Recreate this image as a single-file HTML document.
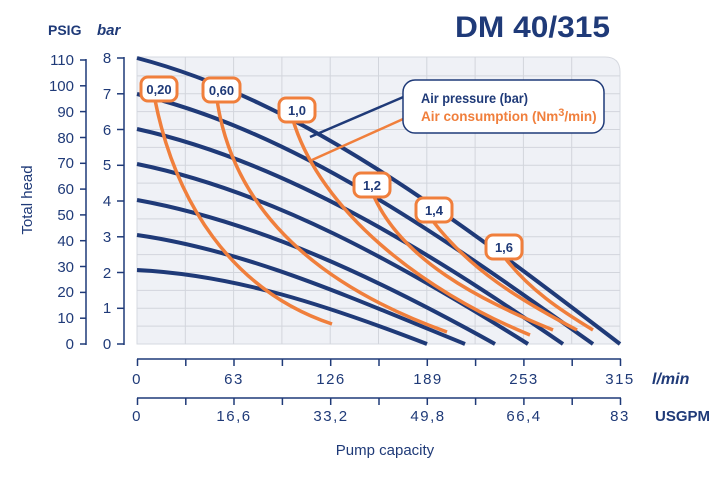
<!DOCTYPE html>
<html><head><meta charset="utf-8"><style>
html,body{margin:0;padding:0;background:#fff}
svg{display:block}
text{font-family:"Liberation Sans",sans-serif}
</style></head><body>
<svg width="716" height="502" viewBox="0 0 716 502" xmlns="http://www.w3.org/2000/svg">
<defs><clipPath id="pc"><path d="M137,57 H605 Q620,57 620,72 V344 H137 Z"/></clipPath></defs>
<path d="M137,57 H605 Q620,57 620,72 V344 H137 Z" fill="#eff1f6" stroke="#d6d9e0" stroke-width="1"/>
<g clip-path="url(#pc)" stroke="#d2d5dc" stroke-width="1">
<line x1="185.3" y1="57" x2="185.3" y2="344"/><line x1="233.6" y1="57" x2="233.6" y2="344"/>
<line x1="281.9" y1="57" x2="281.9" y2="344"/><line x1="330.2" y1="57" x2="330.2" y2="344"/>
<line x1="378.5" y1="57" x2="378.5" y2="344"/><line x1="426.8" y1="57" x2="426.8" y2="344"/>
<line x1="475.1" y1="57" x2="475.1" y2="344"/><line x1="523.4" y1="57" x2="523.4" y2="344"/>
<line x1="571.7" y1="57" x2="571.7" y2="344"/>
<line x1="137" y1="75.9" x2="620" y2="75.9"/><line x1="137" y1="93.8" x2="620" y2="93.8"/>
<line x1="137" y1="111.6" x2="620" y2="111.6"/><line x1="137" y1="129.5" x2="620" y2="129.5"/>
<line x1="137" y1="147.4" x2="620" y2="147.4"/><line x1="137" y1="165.3" x2="620" y2="165.3"/>
<line x1="137" y1="183.1" x2="620" y2="183.1"/><line x1="137" y1="201" x2="620" y2="201"/>
<line x1="137" y1="218.9" x2="620" y2="218.9"/><line x1="137" y1="236.8" x2="620" y2="236.8"/>
<line x1="137" y1="254.6" x2="620" y2="254.6"/><line x1="137" y1="272.5" x2="620" y2="272.5"/>
<line x1="137" y1="290.4" x2="620" y2="290.4"/><line x1="137" y1="308.3" x2="620" y2="308.3"/>
<line x1="137" y1="326.1" x2="620" y2="326.1"/>
</g>
<g fill="none" stroke="#1f3a78" stroke-width="4" stroke-linecap="butt">
<path d="M137,58 C301,101 451,215 620,344"/>
<path d="M137,94 C292,131 436,232 593,344"/>
<path d="M137,129 C282,161 422,247 563,344"/>
<path d="M137,164 C270,191 399,263 528,344"/>
<path d="M137,200 C259,222 378,279 495,344"/>
<path d="M137,235 C248,251 349,297 465,344"/>
<path d="M137,270 C235,275 326,305 427,344"/>
</g>
<g fill="none" stroke="#f07f3c" stroke-width="3.5">
<path d="M155,100 C175,200 230,290 332,324"/>
<path d="M217,100 C235,220 330,290 447,332"/>
<path d="M293,120 C320,210 420,290 530,335"/>
<path d="M372,192 C400,260 480,300 553,330"/>
<path d="M432,220 C470,270 520,300 577,330"/>
<path d="M505,258 C530,290 560,310 593,330"/>
</g>
<line x1="310" y1="137" x2="408" y2="95" stroke="#1f3a78" stroke-width="2.5"/>
<line x1="312" y1="160" x2="412" y2="115" stroke="#f07f3c" stroke-width="2.5"/>
<rect x="403" y="80" width="201" height="53" rx="12" fill="#fff" stroke="#1f3a78" stroke-width="1.5"/>
<text x="421" y="103" font-size="13.5" font-weight="bold" fill="#1f3a78" textLength="107" lengthAdjust="spacingAndGlyphs">Air pressure (bar)</text>
<text x="421" y="121" font-size="13.5" font-weight="bold" fill="#f07f3c">Air consumption (Nm<tspan dy="-5" font-size="11">3</tspan><tspan dy="5">/min)</tspan></text>
<g fill="#fff" stroke="#f07f3c" stroke-width="3">
<rect x="141" y="77" width="36" height="24" rx="7"/>
<rect x="203" y="78" width="37" height="24" rx="7"/>
<rect x="279" y="98" width="36" height="24" rx="7"/>
<rect x="354" y="173" width="36" height="24" rx="7"/>
<rect x="416" y="198" width="36" height="24" rx="7"/>
<rect x="486" y="235" width="36" height="24" rx="7"/>
</g>
<g font-size="13" font-weight="bold" fill="#1f3a78" text-anchor="middle">
<text x="159" y="94">0,20</text><text x="221.5" y="95">0,60</text>
<text x="297" y="115">1,0</text><text x="372" y="190">1,2</text>
<text x="434" y="215">1,4</text><text x="504" y="252">1,6</text>
</g>
<text x="455" y="37" font-size="30" font-weight="bold" fill="#1f3a78" textLength="155" lengthAdjust="spacingAndGlyphs">DM 40/315</text>
<text x="48" y="35" font-size="14" font-weight="bold" fill="#1f3a78">PSIG</text>
<text x="97" y="35" font-size="15" font-weight="bold" font-style="italic" fill="#1f3a78">bar</text>
<g stroke="#1f3a78" stroke-width="1.5" fill="none">
<line x1="86" y1="59" x2="86" y2="345"/>
<line x1="124" y1="57" x2="124" y2="345"/>
<line x1="137" y1="359" x2="621" y2="359"/>
<line x1="137" y1="398" x2="621" y2="398"/>
</g>
<g stroke="#1f3a78" stroke-width="1.5">
<line x1="80" y1="60" x2="86" y2="60"/><line x1="80" y1="85.8" x2="86" y2="85.8"/><line x1="80" y1="111.6" x2="86" y2="111.6"/><line x1="80" y1="137.5" x2="86" y2="137.5"/><line x1="80" y1="163.3" x2="86" y2="163.3"/><line x1="80" y1="189.1" x2="86" y2="189.1"/><line x1="80" y1="214.9" x2="86" y2="214.9"/><line x1="80" y1="240.7" x2="86" y2="240.7"/><line x1="80" y1="266.5" x2="86" y2="266.5"/><line x1="80" y1="292.4" x2="86" y2="292.4"/><line x1="80" y1="318.2" x2="86" y2="318.2"/><line x1="80" y1="344" x2="86" y2="344"/>
<line x1="117" y1="58" x2="124" y2="58"/><line x1="117" y1="93.8" x2="124" y2="93.8"/><line x1="117" y1="129.5" x2="124" y2="129.5"/><line x1="117" y1="165.3" x2="124" y2="165.3"/><line x1="117" y1="201" x2="124" y2="201"/><line x1="117" y1="236.8" x2="124" y2="236.8"/><line x1="117" y1="272.5" x2="124" y2="272.5"/><line x1="117" y1="308.3" x2="124" y2="308.3"/><line x1="117" y1="344" x2="124" y2="344"/>
</g>
<g stroke="#1f3a78" stroke-width="1.5">
<line x1="137.5" y1="359" x2="137.5" y2="366"/><line x1="185.8" y1="359" x2="185.8" y2="366"/><line x1="234" y1="359" x2="234" y2="366"/><line x1="282.4" y1="359" x2="282.4" y2="366"/><line x1="330.7" y1="359" x2="330.7" y2="366"/><line x1="379" y1="359" x2="379" y2="366"/><line x1="427.3" y1="359" x2="427.3" y2="366"/><line x1="475.6" y1="359" x2="475.6" y2="366"/><line x1="523.9" y1="359" x2="523.9" y2="366"/><line x1="572.2" y1="359" x2="572.2" y2="366"/><line x1="620.5" y1="359" x2="620.5" y2="366"/>
<line x1="137.5" y1="398" x2="137.5" y2="405"/><line x1="185.8" y1="398" x2="185.8" y2="405"/><line x1="234" y1="398" x2="234" y2="405"/><line x1="282.4" y1="398" x2="282.4" y2="405"/><line x1="330.7" y1="398" x2="330.7" y2="405"/><line x1="379" y1="398" x2="379" y2="405"/><line x1="427.3" y1="398" x2="427.3" y2="405"/><line x1="475.6" y1="398" x2="475.6" y2="405"/><line x1="523.9" y1="398" x2="523.9" y2="405"/><line x1="572.2" y1="398" x2="572.2" y2="405"/><line x1="620.5" y1="398" x2="620.5" y2="405"/>
</g>
<g font-size="15" fill="#1f3a78" text-anchor="end">
<text x="74" y="65">110</text><text x="74" y="91">100</text><text x="74" y="117">90</text><text x="74" y="143">80</text><text x="74" y="168">70</text><text x="74" y="194">60</text><text x="74" y="220">50</text><text x="74" y="246">40</text><text x="74" y="272">30</text><text x="74" y="297">20</text><text x="74" y="323">10</text><text x="74" y="349">0</text>
</g>
<g font-size="15" fill="#1f3a78" text-anchor="middle">
<text x="107" y="63">8</text><text x="107" y="99">7</text><text x="107" y="135">6</text><text x="107" y="170">5</text><text x="107" y="206">4</text><text x="107" y="242">3</text><text x="107" y="278">2</text><text x="107" y="313">1</text><text x="107" y="349">0</text>
</g>
<g font-size="15" fill="#1f3a78" text-anchor="middle" letter-spacing="1.5">
<text x="137" y="384">0</text><text x="234" y="384">63</text><text x="331" y="384">126</text><text x="428" y="384">189</text><text x="524" y="384">253</text><text x="620" y="384">315</text>
<text x="137" y="421">0</text><text x="234" y="421">16,6</text><text x="331" y="421">33,2</text><text x="428" y="421">49,8</text><text x="524" y="421">66,4</text><text x="620" y="421">83</text>
</g>
<text x="652" y="384" font-size="16" font-weight="bold" font-style="italic" fill="#1f3a78">l/min</text>
<text x="655" y="421" font-size="15" font-weight="bold" fill="#1f3a78">USGPM</text>
<text x="385" y="455" font-size="15" fill="#1f3a78" text-anchor="middle">Pump capacity</text>
<text transform="translate(32,200) rotate(-90)" font-size="15" fill="#1f3a78" text-anchor="middle">Total head</text>
</svg>
</body></html>
